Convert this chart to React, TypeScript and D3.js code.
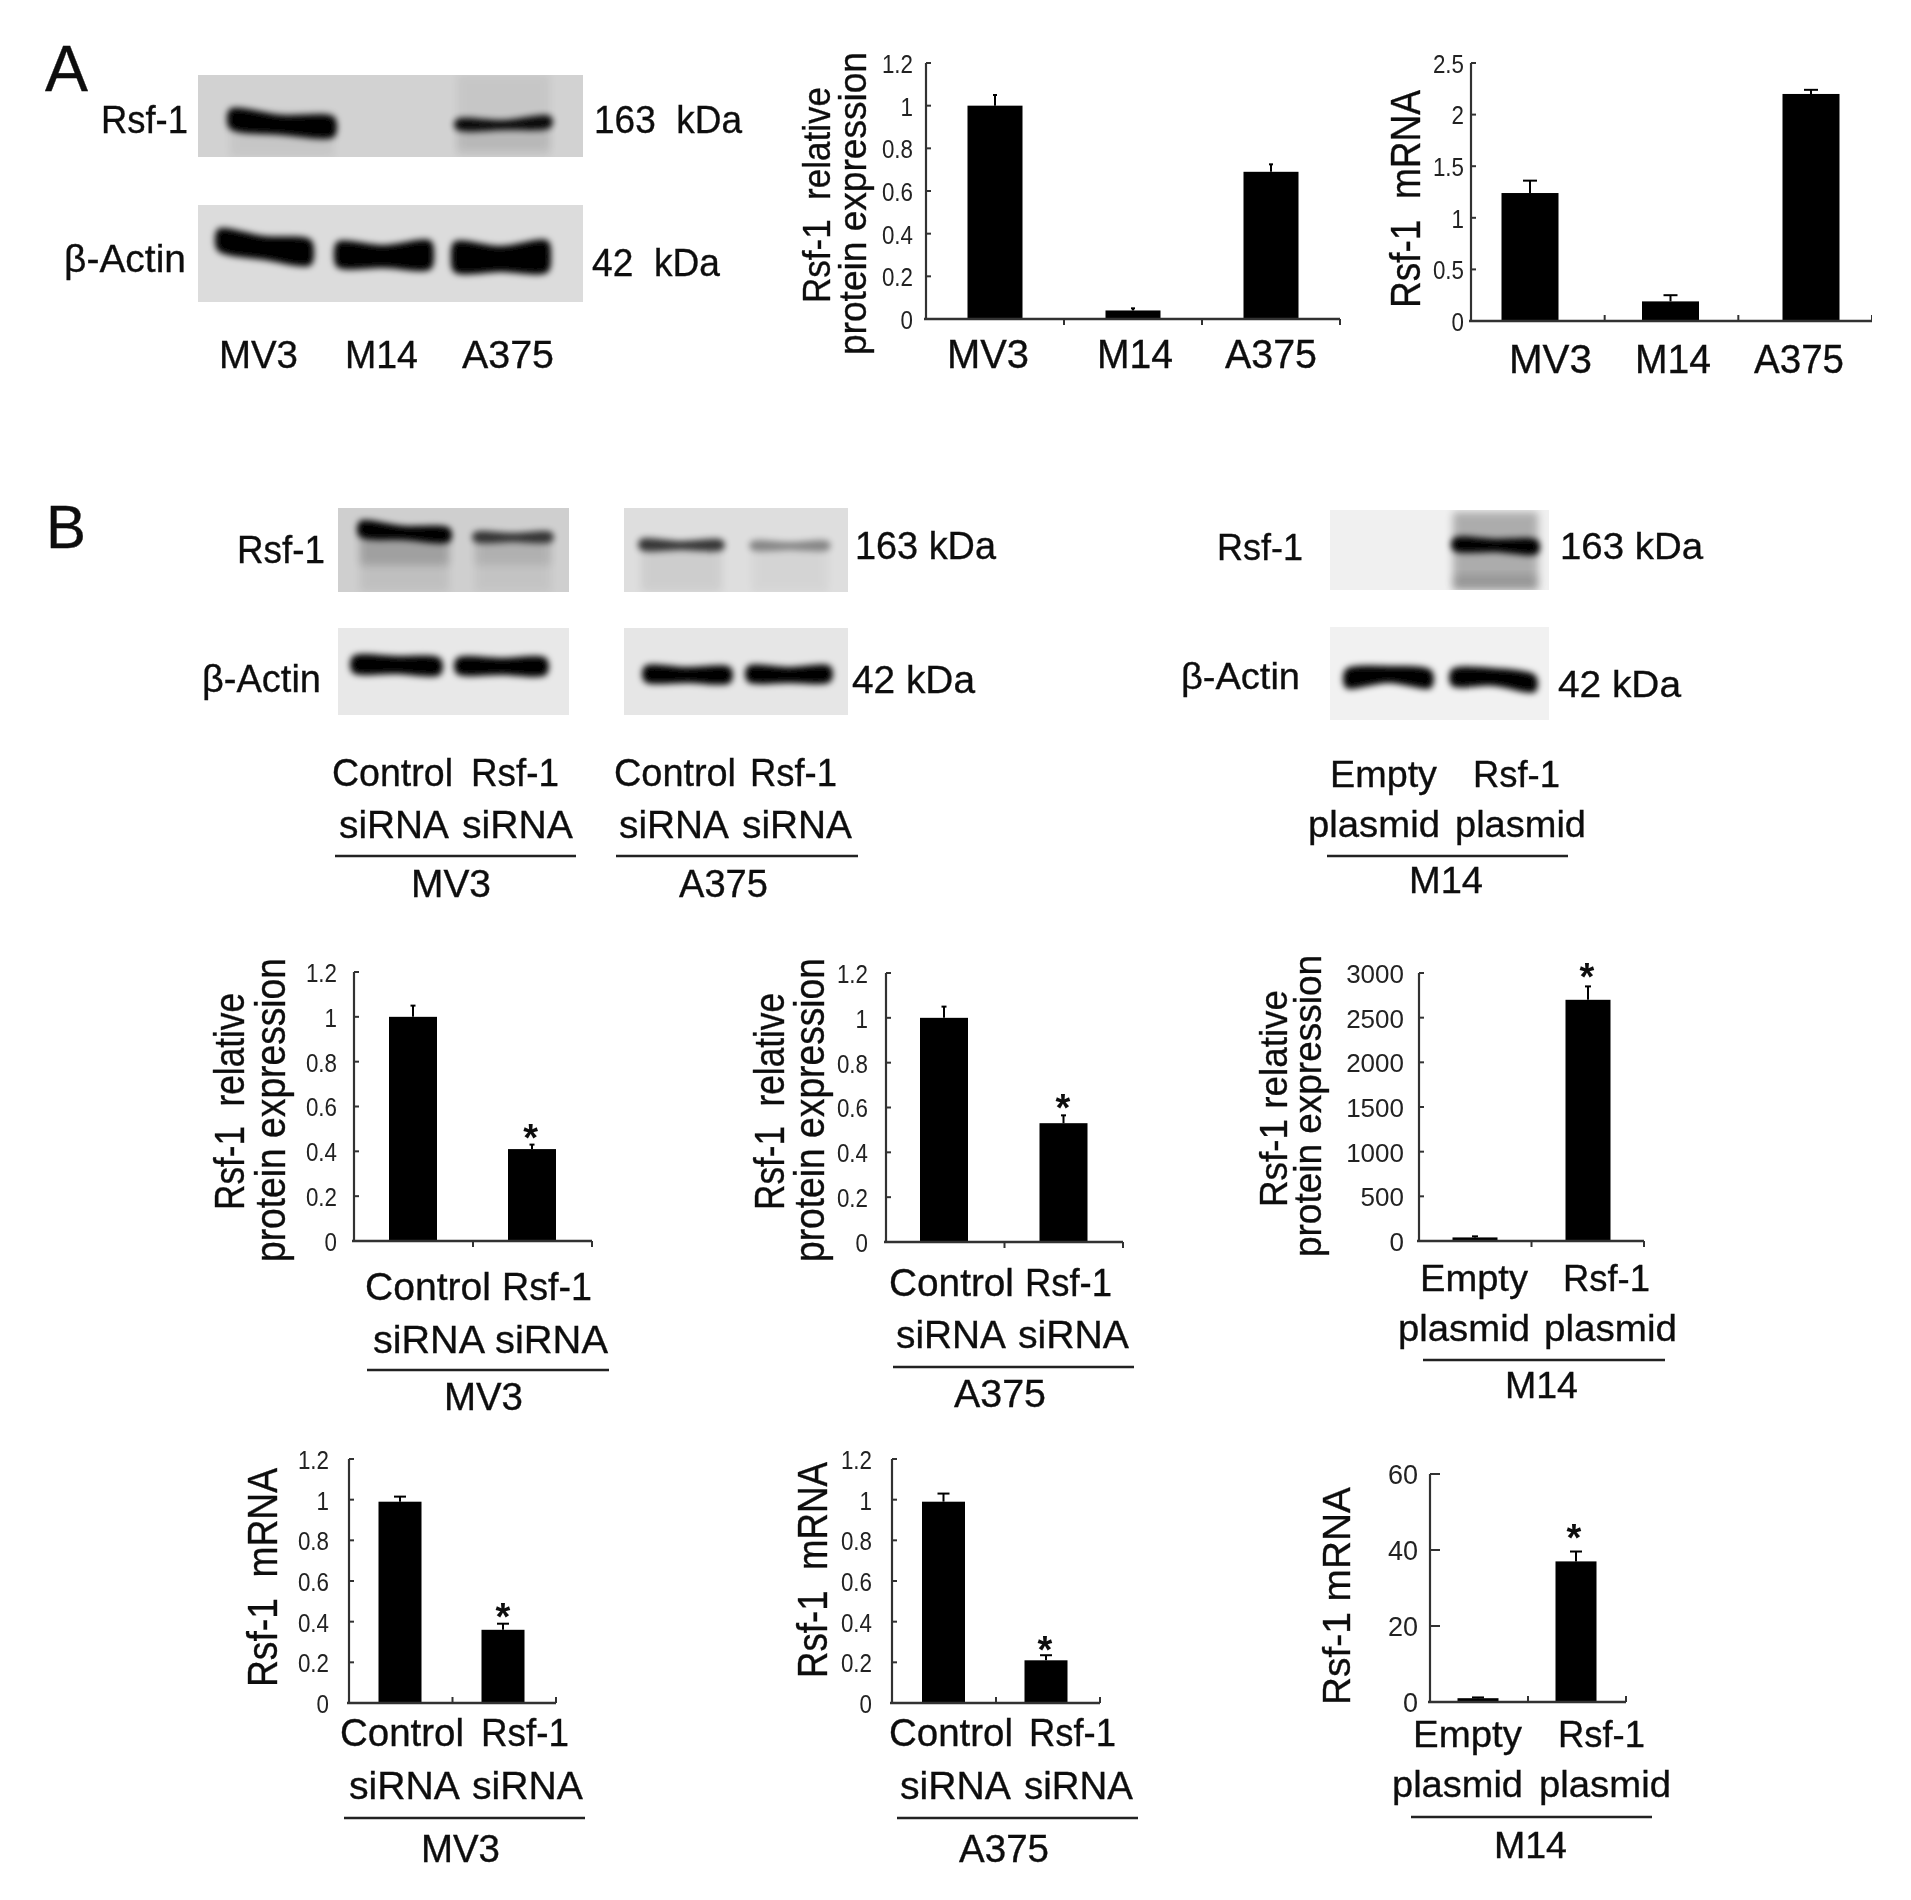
import React from 'react';
import * as d3 from 'd3';

// ---------- data ----------
const cellLines = ['MV3', 'M14', 'A375'];
const sirnaGroups = ['Control siRNA', 'Rsf-1 siRNA'];
const plasmidGroups = ['Empty plasmid', 'Rsf-1 plasmid'];

const ticksUnit = [0, 0.2, 0.4, 0.6, 0.8, 1, 1.2];
const ticksHalf = [0, 0.5, 1, 1.5, 2, 2.5];
const ticksProtein = [0, 500, 1000, 1500, 2000, 2500, 3000];
const ticksMrna = [0, 20, 40, 60];

const lineProtein = [1.0, 0.04, 0.69];
const lineProteinTop = [1.05, 0.05, 0.725];
const lineMrna = [1.24, 0.19, 2.2];
const lineMrnaTop = [1.36, 0.25, 2.24];
const mv3Protein = [1.0, 0.41];
const mv3ProteinTop = [1.05, 0.43];
const a375Protein = [1.0, 0.53];
const a375ProteinTop = [1.05, 0.565];
const m14Protein = [40, 2700];
const m14ProteinTop = [52, 2850];
const mv3Mrna = [0.99, 0.36];
const mv3MrnaTop = [1.015, 0.39];
const a375Mrna = [0.99, 0.21];
const a375MrnaTop = [1.03, 0.235];
const m14Mrna = [1, 37];
const m14MrnaTop = [1.2, 39.6];

// ---------- layout ----------
type Chart = {
  cats: string[]; vals: number[]; tops: number[]; ticks: number[];
  ax0: number; ax1: number; yTop: number; yZero: number;
  c0: number; c1: number; bw: number; cap: number; tickLen: number; xDir: number;
  labelRight: number; tickSize: number; tickSqueeze: number;
};
const charts: Chart[] = [
  { cats: cellLines, vals: lineProtein, tops: lineProteinTop, ticks: ticksUnit, ax0: 926, ax1: 1340, yTop: 63, yZero: 319, c0: 995, c1: 1271, bw: 55, cap: 4, tickLen: 5, xDir: 1, labelRight: 913, tickSize: 26, tickSqueeze: 0.86 },
  { cats: cellLines, vals: lineMrna, tops: lineMrnaTop, ticks: ticksHalf, ax0: 1471, ax1: 1872, yTop: 63, yZero: 321, c0: 1530, c1: 1811, bw: 57, cap: 14, tickLen: 5, xDir: -1, labelRight: 1464, tickSize: 26, tickSqueeze: 0.86 },
  { cats: sirnaGroups, vals: mv3Protein, tops: mv3ProteinTop, ticks: ticksUnit, ax0: 354, ax1: 592, yTop: 972, yZero: 1241, c0: 413, c1: 532, bw: 48, cap: 5, tickLen: 5, xDir: 1, labelRight: 337, tickSize: 26, tickSqueeze: 0.86 },
  { cats: sirnaGroups, vals: a375Protein, tops: a375ProteinTop, ticks: ticksUnit, ax0: 886, ax1: 1123, yTop: 973, yZero: 1242, c0: 944, c1: 1063.5, bw: 48, cap: 5, tickLen: 5, xDir: 1, labelRight: 868, tickSize: 26, tickSqueeze: 0.86 },
  { cats: plasmidGroups, vals: m14Protein, tops: m14ProteinTop, ticks: ticksProtein, ax0: 1419, ax1: 1644, yTop: 973, yZero: 1241, c0: 1475, c1: 1588, bw: 45, cap: 6, tickLen: 5, xDir: 1, labelRight: 1404, tickSize: 26, tickSqueeze: 1 },
  { cats: sirnaGroups, vals: mv3Mrna, tops: mv3MrnaTop, ticks: ticksUnit, ax0: 349, ax1: 556, yTop: 1459, yZero: 1703, c0: 400, c1: 503, bw: 43, cap: 12, tickLen: 5, xDir: -1, labelRight: 329, tickSize: 26, tickSqueeze: 0.86 },
  { cats: sirnaGroups, vals: a375Mrna, tops: a375MrnaTop, ticks: ticksUnit, ax0: 892, ax1: 1100, yTop: 1459, yZero: 1703, c0: 943.5, c1: 1046, bw: 43, cap: 12, tickLen: 5, xDir: -1, labelRight: 872, tickSize: 26, tickSqueeze: 0.86 },
  { cats: plasmidGroups, vals: m14Mrna, tops: m14MrnaTop, ticks: ticksMrna, ax0: 1430, ax1: 1626, yTop: 1474, yZero: 1702, c0: 1478, c1: 1576, bw: 41, cap: 12, tickLen: 10, xDir: -1, labelRight: 1418, tickSize: 27, tickSqueeze: 1 },
];
const starSpots: [number, number][] = [
  [530.6, 1130], [1063, 1100], [1587, 969], [503, 1609], [1045, 1642], [1574, 1530],
];

// text, left, right, baseline, size
const labels: [string, number, number, number, number][] = [
  ['A', 45, 88, 91, 64], ['B', 46, 86, 548, 62],
  ['Rsf-1', 101, 188, 133, 39], ['163  kDa', 594, 742, 133, 39],
  ['β-Actin', 64, 186, 272, 39], ['42  kDa', 592, 720, 276, 39],
  ['MV3', 219, 298, 368, 39], ['M14', 345, 418, 368, 39], ['A375', 462, 554, 368, 39],
  ['MV3', 947, 1029, 368, 40], ['M14', 1097, 1173, 368, 40], ['A375', 1225, 1317, 368, 40],
  ['MV3', 1509, 1592, 373, 40], ['M14', 1635, 1711, 373, 40], ['A375', 1754, 1844, 373, 40],
  ['Rsf-1', 237, 325, 563, 38], ['163 kDa', 855, 996, 559, 38],
  ['β-Actin', 202, 321, 692, 38], ['42 kDa', 852, 975, 693, 38],
  ['Rsf-1', 1217, 1303, 560, 37], ['163 kDa', 1560, 1703, 559, 37],
  ['β-Actin', 1181, 1300, 689, 37], ['42 kDa', 1558, 1681, 697, 37],
  ['Control', 332, 453, 786, 38], ['Rsf-1', 471, 559, 786, 38],
  ['siRNA', 339, 449, 838, 38], ['siRNA', 462, 573, 838, 38], ['MV3', 411, 491, 897, 38],
  ['Control', 614, 736, 786, 38], ['Rsf-1', 750, 837, 786, 38],
  ['siRNA', 619, 729, 838, 38], ['siRNA', 742, 852, 838, 38], ['A375', 679, 768, 897, 38],
  ['Empty', 1330, 1437, 787, 37], ['Rsf-1', 1473, 1560, 787, 37],
  ['plasmid', 1308, 1440, 837, 37], ['plasmid', 1455, 1586, 837, 37], ['M14', 1409, 1483, 893, 37],
  ['Control', 365, 491, 1300, 39], ['Rsf-1', 502, 592, 1300, 39],
  ['siRNA', 373, 485, 1353, 39], ['siRNA', 495, 608, 1353, 39], ['MV3', 444, 523, 1410, 39],
  ['Control', 889, 1014, 1296, 39], ['Rsf-1', 1025, 1112, 1296, 39],
  ['siRNA', 896, 1006, 1348, 39], ['siRNA', 1018, 1129, 1348, 39], ['A375', 954, 1046, 1407, 39],
  ['Empty', 1420, 1528, 1291, 37], ['Rsf-1', 1563, 1650, 1291, 37],
  ['plasmid', 1398, 1530, 1341, 37], ['plasmid', 1544, 1677, 1341, 37], ['M14', 1505, 1578, 1398, 37],
  ['Control', 340, 464, 1746, 39], ['Rsf-1', 481, 569, 1746, 39],
  ['siRNA', 349, 460, 1799, 39], ['siRNA', 472, 583, 1799, 39], ['MV3', 421, 500, 1862, 39],
  ['Control', 889, 1013, 1746, 39], ['Rsf-1', 1029, 1116, 1746, 39],
  ['siRNA', 900, 1011, 1799, 39], ['siRNA', 1024, 1133, 1799, 39], ['A375', 959, 1049, 1862, 39],
  ['Empty', 1413, 1522, 1747, 37], ['Rsf-1', 1558, 1645, 1747, 37],
  ['plasmid', 1392, 1523, 1797, 37], ['plasmid', 1539, 1671, 1797, 37], ['M14', 1494, 1567, 1858, 37],
];

// text, baseline x, bottom y, top y, size
const vLabels: [string, number, number, number, number][] = [
  ['Rsf-1  relative', 830, 303, 87, 39], ['protein expression', 866, 355, 52, 39],
  ['Rsf-1  mRNA', 1420, 308, 90, 43],
  ['Rsf-1  relative', 244, 1210, 993, 43], ['protein expression', 285, 1262, 958, 43],
  ['Rsf-1  relative', 784, 1210, 993, 43], ['protein expression', 824, 1262, 958, 43],
  ['Rsf-1 relative', 1287, 1207, 990, 38], ['protein expression', 1321, 1257, 955, 38],
  ['Rsf-1  mRNA', 277, 1687, 1468, 43], ['Rsf-1  mRNA', 827, 1678, 1462, 43], ['Rsf-1 mRNA', 1350, 1705, 1487, 38],
];

// x0, x1, y
const rules: [number, number, number][] = [
  [335, 576, 856], [616, 858, 856], [1327, 1568, 856],
  [367, 609, 1370], [893, 1134, 1367], [1423, 1665, 1360],
  [344, 585, 1818], [897, 1138, 1818], [1411, 1652, 1817],
];

// blot backgrounds: x0, x1, y0, y1, grey
const blotRects: [number, number, number, number, string][] = [
  [198, 583, 75, 157, '#d2d2d2'], [198, 583, 205, 302, '#dcdcdc'],
  [338, 569, 508, 592, '#cfcfcf'], [338, 569, 628, 715, '#e8e8e8'],
  [624, 848, 508, 592, '#dedede'], [624, 848, 628, 715, '#e6e6e6'],
  [1330, 1549, 510, 590, '#f0f0f0'], [1330, 1549, 627, 720, '#f1f1f1'],
];
// x0, x1, tops, bottoms, opacity, blur kind
type Band = [number, number, number[], number[], number, 'lane' | 'band'];
const bands: Band[] = [
  // A Rsf-1
  [230, 334, [112, 112, 112], [157, 157, 157], 0.05, 'lane'],
  [457, 550, [74, 74, 74], [157, 157, 157], 0.05, 'lane'],
  [457, 550, [128, 128, 128], [150, 150, 150], 0.07, 'lane'],
  [230, 334, [109, 115, 117], [129, 135, 137], 1, 'band'],
  [457, 550, [119, 120, 116], [130, 130, 128], 0.95, 'band'],
  // A actin
  [218, 311, [229, 236, 240], [251, 260, 265], 1, 'band'],
  [337, 431, [242, 245, 241], [267, 268, 269], 1, 'band'],
  [454, 548, [242, 246, 241], [272, 272, 272], 1, 'band'],
  // B MV3 Rsf-1
  [360, 449, [530, 530, 530], [565, 565, 565], 0.16, 'lane'],
  [360, 449, [530, 530, 530], [592, 592, 592], 0.07, 'lane'],
  [475, 551, [535, 535, 535], [565, 565, 565], 0.09, 'lane'],
  [475, 551, [535, 535, 535], [592, 592, 592], 0.05, 'lane'],
  [360, 449, [521, 526, 528], [537, 540, 542], 1, 'band'],
  [475, 551, [532, 533, 532], [542, 542, 542], 0.72, 'band'],
  // B MV3 actin
  [353, 440, [656, 656, 658], [673, 674, 675], 1, 'band'],
  [457, 546, [658, 658, 658], [674, 675, 675], 1, 'band'],
  // B A375 Rsf-1
  [641, 722, [545, 545, 545], [592, 592, 592], 0.07, 'lane'],
  [752, 828, [545, 545, 545], [592, 592, 592], 0.04, 'lane'],
  [641, 722, [539, 541, 540], [550, 550, 550], 0.75, 'band'],
  [752, 828, [541, 542, 541], [550, 550, 550], 0.38, 'band'],
  // B A375 actin
  [645, 730, [666, 667, 667], [682, 683, 683], 1, 'band'],
  [748, 830, [666, 667, 666], [682, 683, 682], 1, 'band'],
  // B M14 Rsf-1
  [1453, 1538, [512, 512, 512], [590, 590, 590], 0.28, 'lane'],
  [1453, 1538, [575, 575, 575], [590, 590, 590], 0.12, 'lane'],
  [1454, 1537, [538, 539, 540], [551, 552, 554], 1, 'band'],
  // B M14 actin
  [1346, 1431, [669, 666, 670], [688, 683, 688], 1, 'band'],
  [1452, 1535, [669, 668, 675], [686, 686, 692], 1, 'band'],
];

const FONT = '"Liberation Sans", Arial, sans-serif';
const INK = '#111';
const AXIS = '#333';

const bandPath = d3.area<[number, number, number]>()
  .x(d => d[0]).y0(d => d[1]).y1(d => d[2]).curve(d3.curveCatmullRom);

function bandPoints(b: Band) {
  const [x0, x1, tops, bots, , kind] = b;
  const pts = tops.map((t, j) => [x0 + (x1 - x0) * j / (tops.length - 1), t, bots[j]] as [number, number, number]);
  if (kind === 'lane') return pts;
  const first = pts[0], last = pts[pts.length - 1];
  const midA = (first[1] + first[2]) / 2, midB = (last[1] + last[2]) / 2;
  return [[x0 - 3, midA, midA] as [number, number, number], ...pts, [x1 + 3, midB, midB] as [number, number, number]];
}

function blotIndexFor(b: Band) {
  const cx = (b[0] + b[1]) / 2, cy = (b[2][1] + b[3][1]) / 2;
  return blotRects.findIndex(r => cx >= r[0] && cx <= r[1] && cy >= r[2] && cy <= r[3]);
}

function BarChart({ c }: { c: Chart }) {
  const y = d3.scaleLinear().domain([c.ticks[0], c.ticks[c.ticks.length - 1]]).range([c.yZero, c.yTop]);
  const x = d3.scalePoint<string>().domain(c.cats).range([c.c0, c.c1]);
  const edge = d3.scaleLinear().domain([0, c.cats.length]).range([c.ax0, c.ax1]);
  const fmt = (v: number) => String(v);
  return (
    <g>
      {c.cats.map((k, i) => {
        const cx = x(k)!;
        return (
          <g key={k}>
            <line x1={cx} x2={cx} y1={y(c.vals[i])} y2={y(c.tops[i])} stroke="#000" strokeWidth={2} />
            <line x1={cx - c.cap / 2} x2={cx + c.cap / 2} y1={y(c.tops[i])} y2={y(c.tops[i])} stroke="#000" strokeWidth={2} />
            <rect x={cx - c.bw / 2} y={y(c.vals[i])} width={c.bw} height={c.yZero - y(c.vals[i])} fill="#000" />
          </g>
        );
      })}
      <line x1={c.ax0} x2={c.ax0} y1={c.yTop} y2={c.yZero} stroke={AXIS} strokeWidth={2.2} />
      <line x1={c.ax0 - 2} x2={c.ax1} y1={c.yZero} y2={c.yZero} stroke={AXIS} strokeWidth={2.6} />
      {c.ticks.map(t => (
        <g key={t}>
          <line x1={c.ax0} x2={c.ax0 + c.tickLen} y1={y(t)} y2={y(t)} stroke={AXIS} strokeWidth={2} />
          <text transform={`translate(${c.labelRight},${y(t) + c.tickSize * 0.36 + 0.5}) scale(${c.tickSqueeze},1)`} textAnchor="end" fontSize={c.tickSize} fontFamily={FONT} fill="#222">{fmt(t)}</text>
        </g>
      ))}
      {d3.range(1, c.cats.length + 1).map(i => (
        <line key={i} x1={edge(i)} x2={edge(i)} y1={c.yZero} y2={c.yZero + c.xDir * 6} stroke={AXIS} strokeWidth={2} />
      ))}
    </g>
  );
}

export default function App() {
  return (
    <svg width={1911} height={1900} viewBox="0 0 1911 1900" style={{ position: 'absolute', left: 0, top: 0, display: 'block', background: '#fff' }}>
      <defs>
        <filter id="lane" x="-30%" y="-30%" width="160%" height="160%"><feGaussianBlur stdDeviation="4" /></filter>
        <filter id="band" x="-20%" y="-80%" width="140%" height="260%"><feGaussianBlur stdDeviation="3" /></filter>
        <filter id="page" x="0" y="0" width="100%" height="100%"><feGaussianBlur stdDeviation="0.6" /></filter>
        {blotRects.map((r, i) => (
          <clipPath id={`blot${i}`} key={i}><rect x={r[0]} y={r[2]} width={r[1] - r[0]} height={r[3] - r[2]} /></clipPath>
        ))}
      </defs>
      <g filter="url(#page)">
        {blotRects.map((r, i) => (
          <rect key={i} x={r[0]} y={r[2]} width={r[1] - r[0]} height={r[3] - r[2]} fill={r[4]} />
        ))}
        {bands.map((b, i) => (
          <g key={i} clipPath={`url(#blot${blotIndexFor(b)})`}>
            <path d={bandPath(bandPoints(b)) || ''} fill="#000" opacity={b[4]} filter={`url(#${b[5]})`} />
          </g>
        ))}
        {charts.map((c, i) => <BarChart key={i} c={c} />)}
        {starSpots.map(([sx, sy], i) => (
          <text key={i} x={sx} y={sy + 21} textAnchor="middle" fontSize={38} fontWeight="bold" fontFamily={FONT} fill={INK}>*</text>
        ))}
        {labels.map(([t, x0, x1, yb, s], i) => (
          <text key={i} x={x0} y={yb} fontSize={s} fontFamily={FONT} fill={INK} stroke={INK} strokeWidth={0.35} style={{ whiteSpace: 'pre' }} textLength={x1 - x0} lengthAdjust="spacingAndGlyphs">{t}</text>
        ))}
        {vLabels.map(([t, xb, y0, y1, s], i) => (
          <text key={i} transform={`translate(${xb},${y0}) rotate(-90)`} fontSize={s} fontFamily={FONT} fill={INK} stroke={INK} strokeWidth={0.35} style={{ whiteSpace: 'pre' }} textLength={y0 - y1} lengthAdjust="spacingAndGlyphs">{t}</text>
        ))}
        {rules.map(([x0, x1, yy], i) => (
          <line key={i} x1={x0} x2={x1} y1={yy} y2={yy} stroke="#222" strokeWidth={2.4} />
        ))}
      </g>
    </svg>
  );
}
